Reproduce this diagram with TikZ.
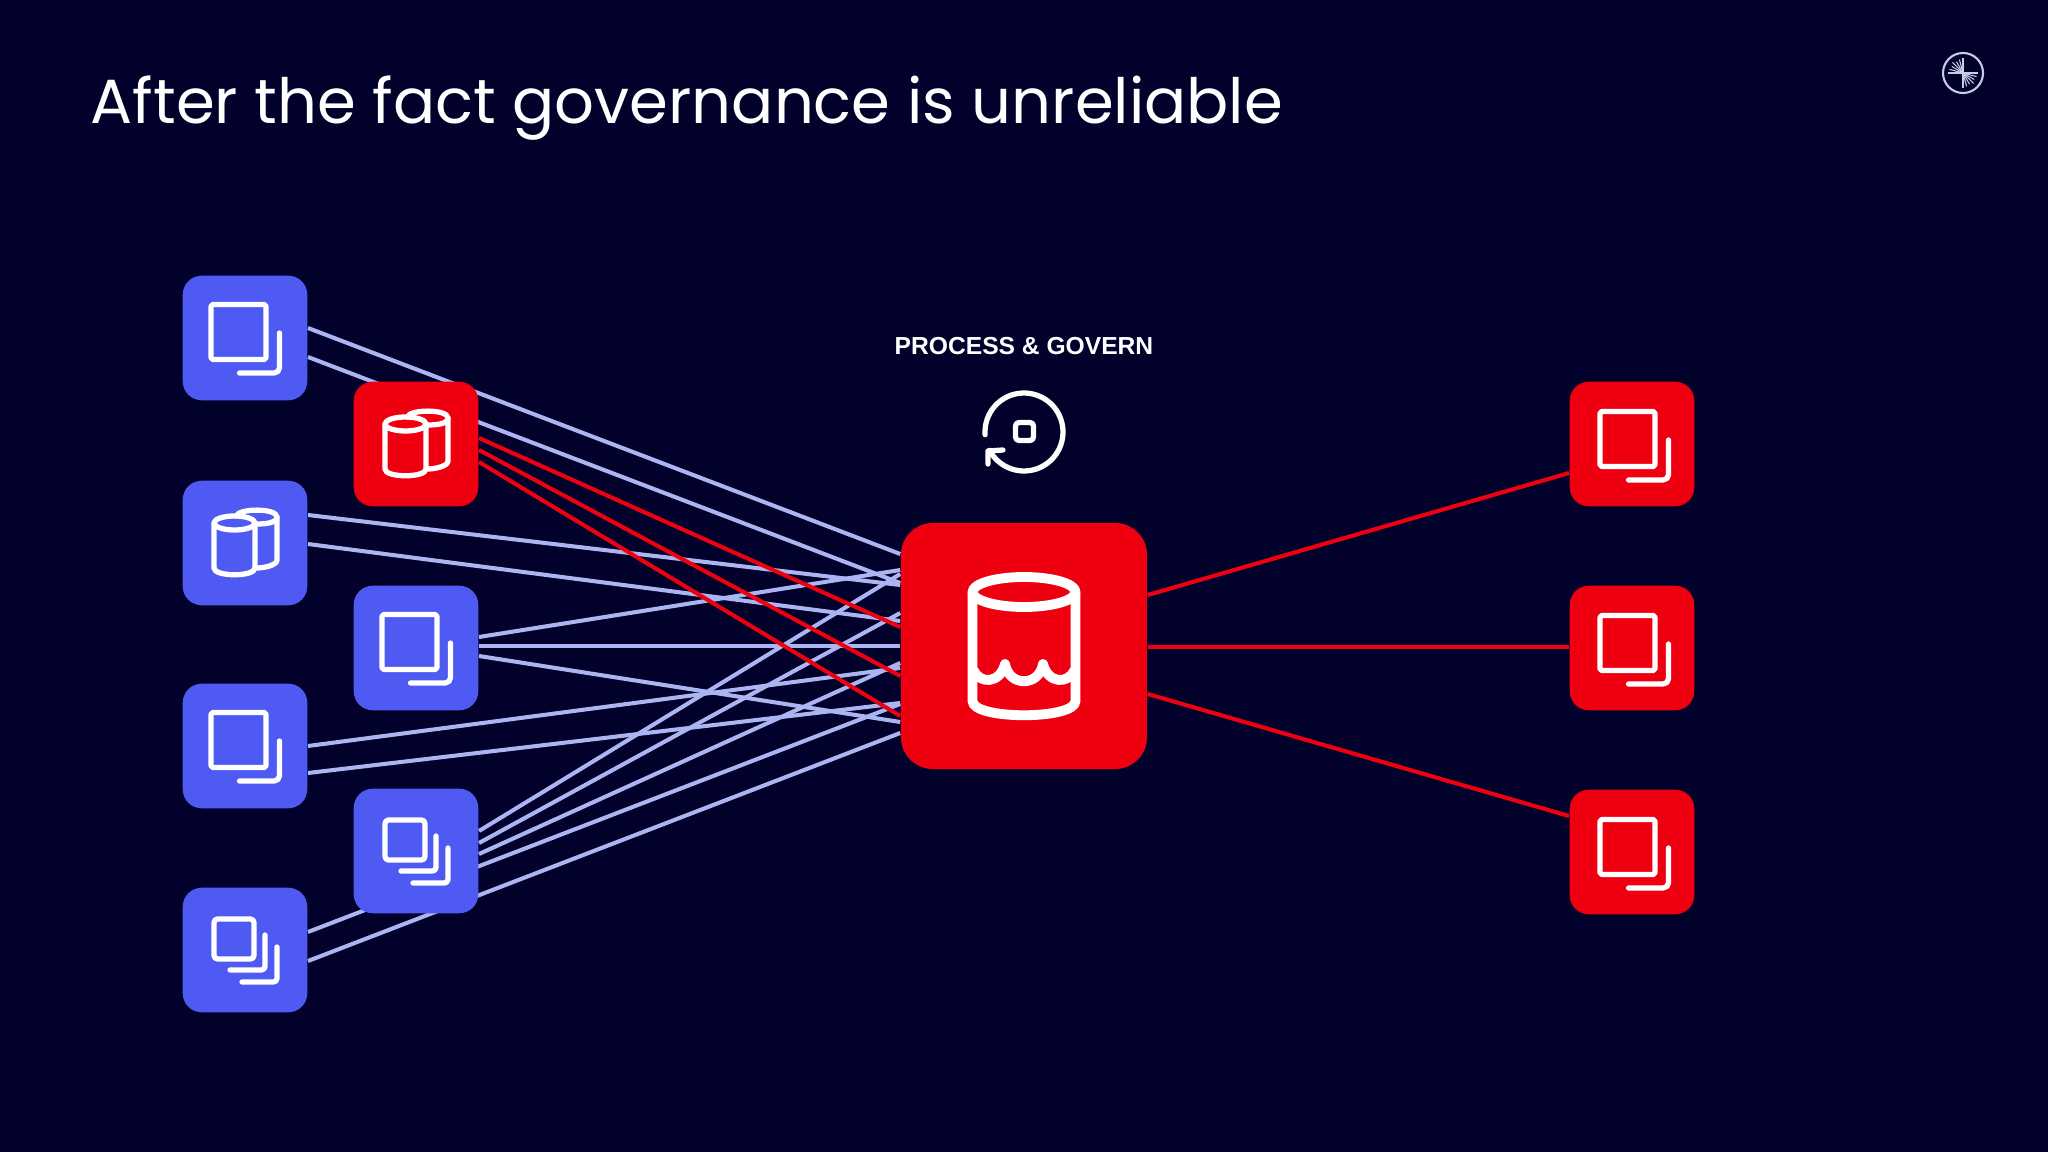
\documentclass[tikz,border=0pt]{standalone}
\usepackage{xcolor}
\usepackage{fontspec}
\setmainfont{Poppins}
\newfontfamily\labelfont{Liberation Sans}
\usetikzlibrary{backgrounds,calc}
\definecolor{pagenavy}{HTML}{01012C}
\definecolor{boxblue}{HTML}{4F5AF2}
\definecolor{boxred}{HTML}{EE0010}
\definecolor{wireblue}{HTML}{AAB5F2}
\definecolor{logogrey}{HTML}{C9CCE8}

\tikzset{
  srcbox/.style={fill=boxblue,minimum size=1.245cm,inner sep=0pt,rounded corners=0.19cm},
  redbox/.style={srcbox,fill=boxred},
  lakebox/.style={fill=boxred,minimum size=2.46cm,inner sep=0pt,rounded corners=0.32cm},
  wire/.style={draw=wireblue,line width=1.15pt},
  redwire/.style={draw=boxred,line width=1.15pt},
  iconline/.style={draw=white,line width=1.5pt,line cap=round,line join=round},
  docone/.pic={
    \draw[iconline,rounded corners=0.5pt] (-34,-33.5) rectangle (21,21.5);
    \draw[iconline,rounded corners=1.5pt] (34.5,-5) -- (34.5,35) -- (-5.5,35);
  },
  doctwo/.pic={
    \draw[iconline,rounded corners=1pt] (-31,-31) rectangle (9,9);
    \draw[iconline,rounded corners=1pt] (20,-15) -- (20,20) -- (-15,20);
    \draw[iconline,rounded corners=1pt] (32,-3) -- (32,32) -- (-3,32);
  },
  cans/.pic={
    \draw[iconline] (-10.5,-20) ellipse [x radius=20.5,y radius=7];
    \draw[iconline] (-31,-20) -- (-31,25) .. controls (-31,34) and (10,34) .. (10,25) -- (10,-20);
    \draw[iconline] (-9,-27) .. controls (-6,-35) and (32,-35) .. (32,-26) .. controls (32,-20) and (20,-19) .. (12,-19);
    \draw[iconline] (32,-26) -- (32,17) .. controls (32,22) and (20,25) .. (11,25);
  },
  lakeicon/.pic={
    \draw[iconline,line width=2.8pt] (0,-54) ellipse [x radius=51.5,y radius=15];
    \draw[iconline,line width=2.8pt] (-51.5,-54) -- (-51.5,55) .. controls (-51.5,74) and (51.5,74) .. (51.5,55) -- (51.5,-54);
    \draw[iconline,line width=2.8pt] (-50,25) .. controls (-44,38) and (-24,38) .. (-19,18) .. controls (-15,41) and (15,41) .. (19,18) .. controls (24,38) and (44,38) .. (50,25);
  },
  cycleicon/.pic={
    \draw[iconline] plot[domain=176:512,samples=70] ({39*cos(\x)},{39*sin(\x)});
    \draw[iconline] (-21,18) -- (-36,19) -- (-36,32);
    \draw[iconline,rounded corners=1pt] (-8.5,-9.5) rectangle (9.5,8.5);
  },
}

\begin{document}
\begin{tikzpicture}[x=0.01cm,y=-0.01cm]

\node (title) at (90,124) [anchor=base west,text=white,font=\fontsize{17.75}{21}\selectfont,inner sep=0pt]{After the fact governance is unreliable};

\node (s1) at (245,338) [srcbox]{};
\node (s2) at (245,543) [srcbox]{};
\node (s3) at (245,746) [srcbox]{};
\node (s4) at (245,950) [srcbox]{};
\node (m1) at (416,444) [redbox]{};
\node (m2) at (416,648) [srcbox]{};
\node (m3) at (416,851) [srcbox]{};
\node (lake) at (1024,646) [lakebox]{};
\node (t1) at (1632,444) [redbox]{};
\node (t2) at (1632,648) [redbox]{};
\node (t3) at (1632,852) [redbox]{};

\node (govern) at (1024,346) [text=white,font=\labelfont\bfseries\fontsize{7}{9}\selectfont,inner sep=0pt]{PROCESS \& GOVERN};

\pic at (s1) {docone};
\pic at (s2) {cans};
\pic at (s3) {docone};
\pic at (s4) {doctwo};
\pic at (m1) {cans};
\pic at (m2) {docone};
\pic at (m3) {doctwo};
\pic at (lake) {lakeicon};
\pic at (1634,445) {docone};
\pic at (1634,649) {docone};
\pic at (1634,853) {docone};
\pic at (1024,432) {cycleicon};

\node (logo) at (1963,73) [circle,draw=logogrey,line width=0.6pt,minimum size=0.4cm,inner sep=0pt]{};
\foreach \ang/\len in {180/15,195/14,210/13,225/15,240/13,255/14,270/15,0/15,15/14,30/13,45/15,60/13,75/14,90/15}
  \draw[logogrey,line width=0.3pt] (logo.center) -- ++({\len*cos(\ang)},{\len*sin(\ang)});

\begin{scope}[on background layer]
\fill[pagenavy] (0,0) rectangle (2048,1152);
\foreach \src/\a/\b in {s1/-10/-92,s1/19/-63,s2/-28/-61,s2/1/-25,s3/0/22,s3/27/57,s4/-18/58,s4/11/87,m2/-11/-76,m2/-2/0,m2/8/76,m3/-20/-72,m3/-8/-33,m3/3/17}
  \draw[wire] ($(\src.east)+(0,\a)$) -- ($(lake.west)+(0,\b)$);
\foreach \a/\b in {-6/-19,6/30,18/70}
  \draw[redwire] ($(m1.east)+(0,\a)$) -- ($(lake.west)+(0,\b)$);
\draw[redwire] ($(lake.east)+(0,-51)$) -- ($(t1.west)+(0,29)$);
\draw[redwire] ($(lake.east)+(0,1)$) -- ($(t2.west)+(0,-1)$);
\draw[redwire] ($(lake.east)+(0,48)$) -- ($(t3.west)+(0,-36)$);
\end{scope}

\end{tikzpicture}
\end{document}
